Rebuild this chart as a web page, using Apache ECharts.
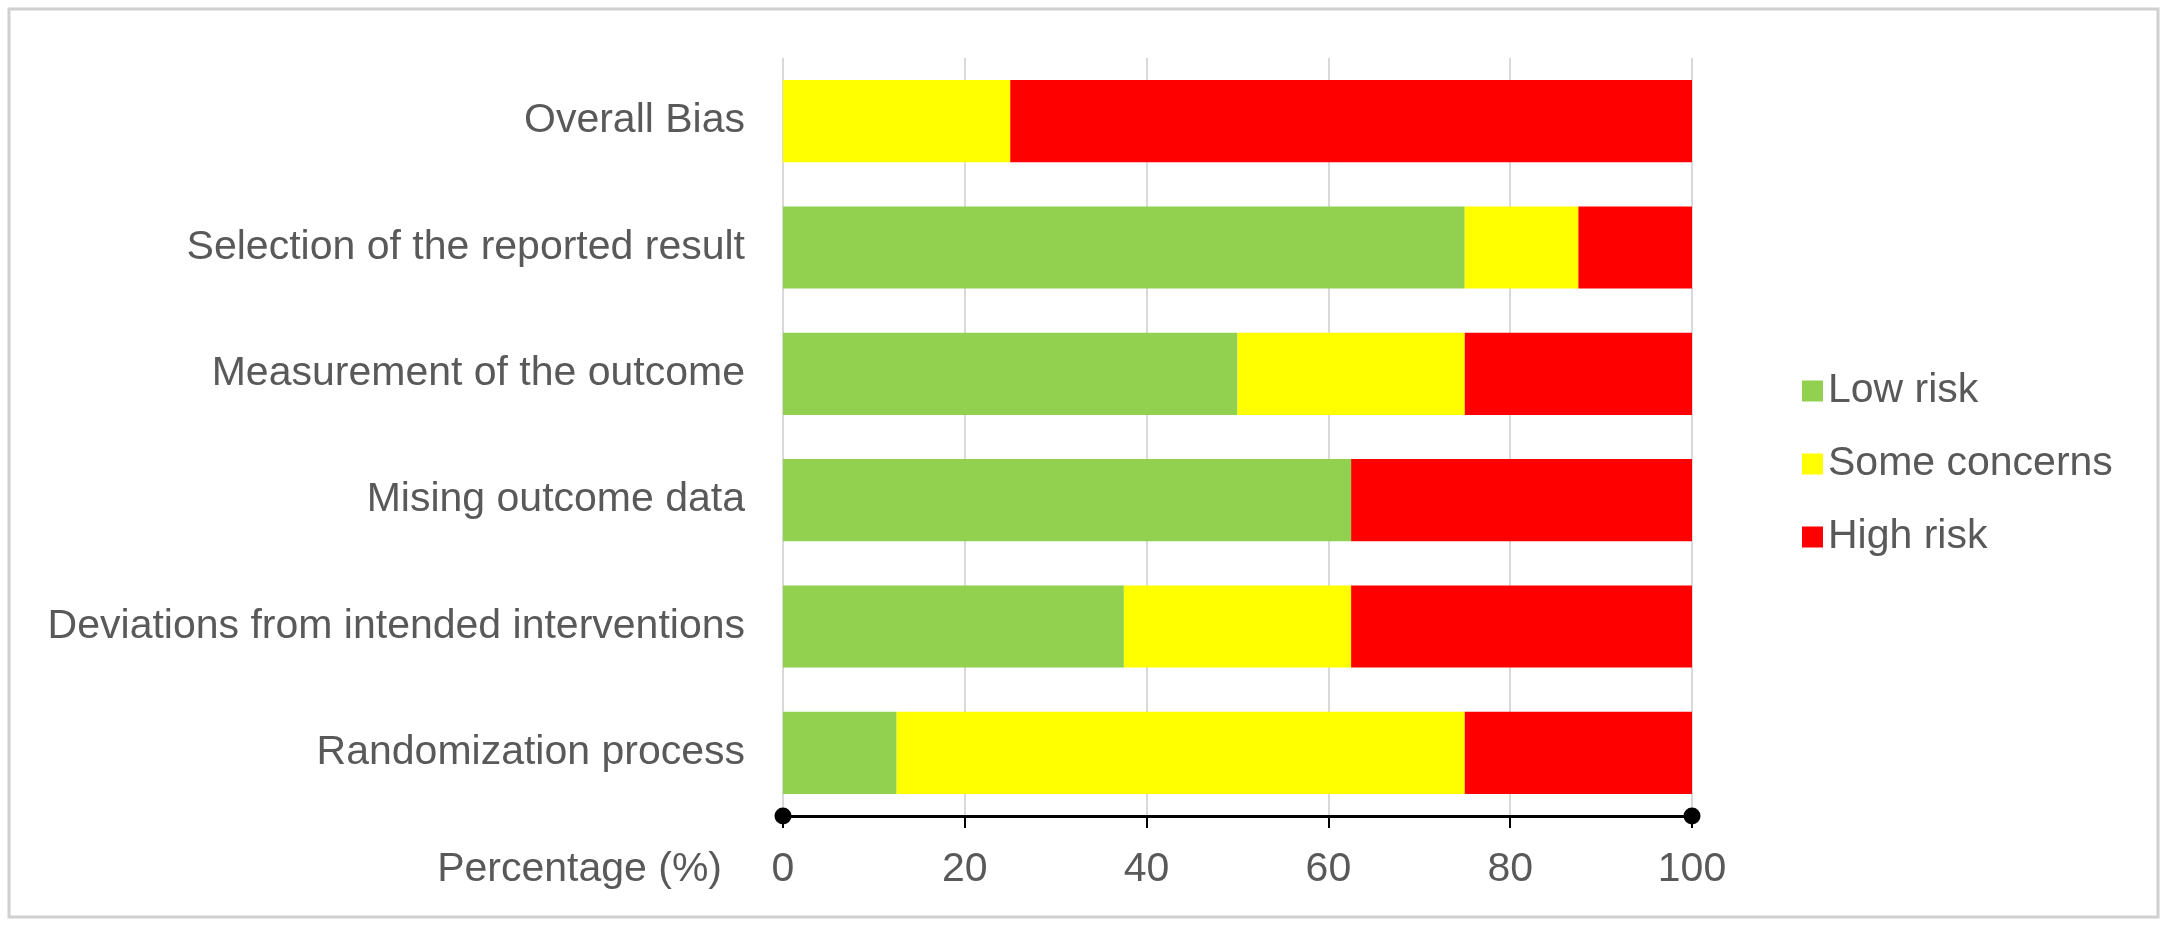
<!DOCTYPE html>
<html>
<head>
<meta charset="utf-8">
<title>Risk of bias</title>
<script src="https://cdn.jsdelivr.net/npm/echarts@6/dist/echarts.min.js"></script>
<style>
  html, body { margin: 0; padding: 0; background: #fff; }
  #chart { width: 2169px; height: 932px; }
</style>
</head>
<body>
<div id="chart"></div>
<script>
// categories, bottom to top (category axis starts at the bottom)
const domains = [
  'Randomization process',
  'Deviations from intended interventions',
  'Mising outcome data',
  'Measurement of the outcome',
  'Selection of the reported result',
  'Overall Bias'
]
const lowRisk = [12.5, 37.5, 62.5, 50, 75, 0]
const someConcerns = [62.5, 25, 0, 25, 12.5, 25]
const highRisk = [25, 37.5, 37.5, 25, 12.5, 75]
const xTicks = [0, 20, 40, 60, 80, 100]

const textColor = '#595959'
const font = 'Liberation Sans, Arial, sans-serif'
const fs = 41

const chart = echarts.init(document.getElementById('chart'))

// one stacked bar series per judgement
const mkSeries = (name, data, color) => ({
  name,
  type: 'bar',
  stack: 'risk',
  data,
  barWidth: '65%',
  itemStyle: {color},
  emphasis: {disabled: true}
})

chart.setOption({
  animation: false,
  backgroundColor: '#fff',
  textStyle: {fontFamily: font},
  graphic: [{
    type: 'rect',
    shape: {x: 9, y: 9, width: 2149, height: 908},
    style: {fill: 'none', stroke: '#d0d0d0', lineWidth: 3},
    silent: true
  }],
  grid: {left: 783, right: 477, top: 58, bottom: 116},
  legend: {
    orient: 'vertical',
    left: 1797,
    top: 364,
    icon: 'rect',
    itemWidth: 21,
    itemHeight: 21,
    itemGap: 29,
    textStyle: {color: textColor, fontSize: fs, lineHeight: 44, padding: [0, 0, 0, 0]},
    data: ['Low risk', 'Some concerns', 'High risk']
  },
  xAxis: {
    type: 'value',
    min: xTicks[0],
    max: xTicks[xTicks.length - 1],
    interval: 20,
    name: 'Percentage (%)',
    nameLocation: 'start',
    nameGap: 61,
    nameTextStyle: {
      color: textColor, fontSize: fs,
      verticalAlign: 'top', padding: [33, 0, 0, 0]
    },
    axisLine: {
      show: true,
      lineStyle: {color: '#000', width: 3},
      symbol: ['circle', 'circle'],
      symbolSize: [17, 18]
    },
    axisTick: {show: true, length: 12, lineStyle: {color: '#000', width: 2}},
    axisLabel: {color: textColor, fontSize: fs, margin: 33},
    splitLine: {show: true, lineStyle: {color: '#d9d9d9', width: 2}}
  },
  yAxis: {
    type: 'category',
    data: domains,
    axisLine: {show: false},
    axisTick: {show: false},
    axisLabel: {color: textColor, fontSize: fs, margin: 38},
    splitLine: {show: false}
  },
  series: [
    mkSeries('Low risk', lowRisk, '#92d050'),
    mkSeries('Some concerns', someConcerns, '#ffff00'),
    mkSeries('High risk', highRisk, '#ff0000')
  ]
})
</script>
</body>
</html>
